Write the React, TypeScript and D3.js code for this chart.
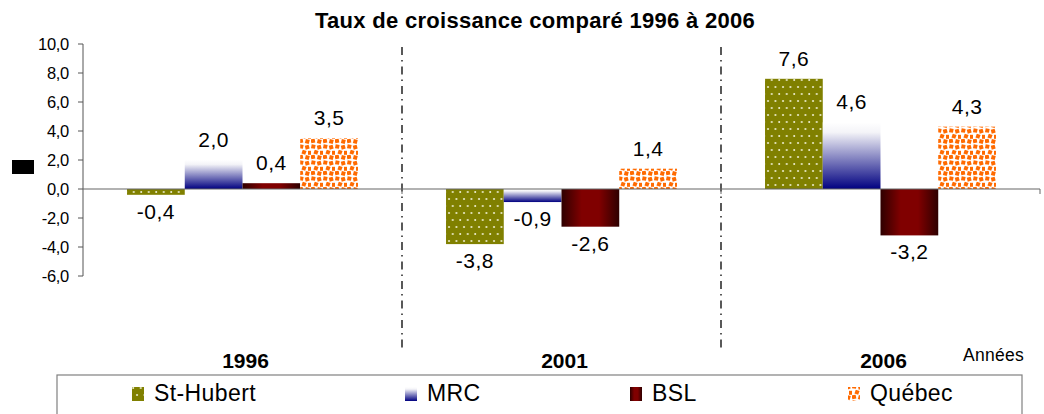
import React from "react";
import * as d3 from "d3";

const years = ["1996", "2001", "2006"];
const seriesNames = ["St-Hubert", "MRC", "BSL", "Québec"];
const stHubert = [-0.4, -3.8, 7.6];
const mrc = [2.0, -0.9, 4.6];
const bsl = [0.4, -2.6, -3.2];
const quebec = [3.5, 1.4, 4.3];
const yTicks = [-6, -4, -2, 0, 2, 4, 6, 8, 10];

const seriesValues = [stHubert, mrc, bsl, quebec];
const fills = ["url(#dotsOlive)", "url(#gradNavy)", "url(#gradMaroon)", "url(#confetti)"];

const W = 1044;
const H = 414;
const FONT = "'Liberation Sans', Arial, sans-serif";

const locale = d3.formatLocale({
  decimal: ",",
  thousands: " ",
  grouping: [3],
  currency: ["", " €"],
  minus: "-",
});
const fmt = locale.format(".1f");

// a few orange squares, a bit jittered, like the excel confetti fill
const confettiSquares = [
  [0.3, 0.5, 10], [6.2, 1.2, -15], [3.0, 6.2, 20], [9.0, 6.8, 0],
  [0.0, 11.0, -10], [6.3, 11.5, 15],
];

export default function App() {
  const x0 = d3.scaleBand().domain(years).range([83, 1040]).padding(0);
  const bw = x0.bandwidth();
  const x1 = d3
    .scaleBand()
    .domain(seriesNames)
    .range([bw * 0.138, bw * 0.862])
    .padding(0);
  const y = d3.scaleLinear().domain([-6, 10]).range([276, 44]);
  const y0 = y(0);

  const legendX = [154, 427, 652, 870];

  return (
    <svg
      width={W}
      height={H}
      style={{ position: "absolute", left: 0, top: 0, background: "#fff" }}
      fontFamily={FONT}
    >
      <defs>
        <pattern id="dotsOlive" width={7.5} height={14} patternUnits="userSpaceOnUse">
          <rect width={7.5} height={14} fill="#808000" />
          <circle cx={2} cy={3} r={1} fill="#f2f2d8" />
          <circle cx={5.75} cy={10} r={1} fill="#f2f2d8" />
        </pattern>
        <linearGradient id="gradNavy" x1="0" y1="0" x2="0" y2="1">
          <stop offset="0" stopColor="#ffffff" />
          <stop offset="0.15" stopColor="#f4f4f8" />
          <stop offset="1" stopColor="#000080" />
        </linearGradient>
        <linearGradient id="gradMaroon" x1="0" y1="0" x2="1" y2="0">
          <stop offset="0" stopColor="#2e0000" />
          <stop offset="0.35" stopColor="#800000" />
          <stop offset="0.65" stopColor="#800000" />
          <stop offset="1" stopColor="#2e0000" />
        </linearGradient>
        <pattern id="confetti" width={12} height={16} patternUnits="userSpaceOnUse">
          <rect width={12} height={16} fill="#ffffff" />
          {confettiSquares.map(([cx, cy, rot], i) => (
            <rect
              key={i}
              x={cx}
              y={cy}
              width={4}
              height={4}
              fill="#ff6a00"
              transform={`rotate(${rot} ${cx + 2} ${cy + 2})`}
            />
          ))}
        </pattern>
      </defs>

      {/* title */}
      <text
        x={535}
        y={28}
        textAnchor="middle"
        fontSize={22}
        fontWeight="bold"
        letterSpacing={0.3}
      >
        Taux de croissance comparé 1996 à 2006
      </text>

      {/* odd little black box where the y title should be */}
      <rect x={12} y={160} width={22} height={14} fill="#000" />

      {/* category separators */}
      {years.slice(1).map((yr) => (
        <line
          key={yr}
          x1={x0(yr)}
          x2={x0(yr)}
          y1={47}
          y2={352}
          stroke="#000"
          strokeWidth={1.3}
          strokeDasharray="8,5,1.5,5"
        />
      ))}

      {/* bars */}
      {years.map((yr, i) => (
        <g key={yr} transform={`translate(${x0(yr)},0)`}>
          {seriesNames.map((s, j) => {
            const v = seriesValues[j][i];
            const top = y(Math.max(0, v));
            const h = Math.abs(y(v) - y0);
            return (
              <rect
                key={s}
                x={x1(s)}
                y={top}
                width={x1.bandwidth()}
                height={h}
                fill={fills[j]}
              />
            );
          })}
        </g>
      ))}

      {/* y axis */}
      <line x1={83} x2={83} y1={y(10)} y2={y(-6)} stroke="#555" strokeWidth={1} />
      {yTicks.map((t) => (
        <g key={t}>
          <line x1={78} x2={83} y1={y(t)} y2={y(t)} stroke="#555" />
          <text
            x={69}
            y={y(t) + 6}
            textAnchor="end"
            fontSize={16.5}
            letterSpacing={-0.3}
          >
            {fmt(t)}
          </text>
        </g>
      ))}

      {/* zero line with small category ticks */}
      <line x1={83} x2={1040} y1={y0} y2={y0} stroke="#666" strokeWidth={1.2} />
      {years.slice(1).map((yr) => (
        <line key={yr} x1={x0(yr)} x2={x0(yr)} y1={y0} y2={y0 + 5} stroke="#666" />
      ))}
      <line x1={1040} x2={1040} y1={y0} y2={y0 + 5} stroke="#666" />

      {/* value labels */}
      {years.map((yr, i) =>
        seriesNames.map((s, j) => {
          const v = seriesValues[j][i];
          const cx = x0(yr) + x1(s) + x1.bandwidth() / 2;
          const ly = v >= 0 ? y(v) - 13 : y(v) + 24;
          return (
            <text
              key={yr + s}
              x={cx}
              y={ly}
              textAnchor="middle"
              fontSize={21}
              letterSpacing={0.5}
            >
              {fmt(v)}
            </text>
          );
        })
      )}

      {/* category labels */}
      {years.map((yr) => (
        <text
          key={yr}
          x={x0(yr) + bw / 2 + 3}
          y={368}
          textAnchor="middle"
          fontSize={21}
          fontWeight="bold"
        >
          {yr}
        </text>
      ))}
      <text x={963} y={361} fontSize={17.5} letterSpacing={0.3}>
        Années
      </text>

      {/* legend */}
      <rect x={57} y={375} width={965} height={60} fill="none" stroke="#808080" strokeWidth={1.2} />
      {seriesNames.map((s, j) => (
        <g key={s}>
          <rect x={legendX[j] - 22} y={387} width={12} height={14} fill={fills[j]} />
          <text x={legendX[j]} y={401} fontSize={23} letterSpacing={0.4}>
            {s}
          </text>
        </g>
      ))}
    </svg>
  );
}
